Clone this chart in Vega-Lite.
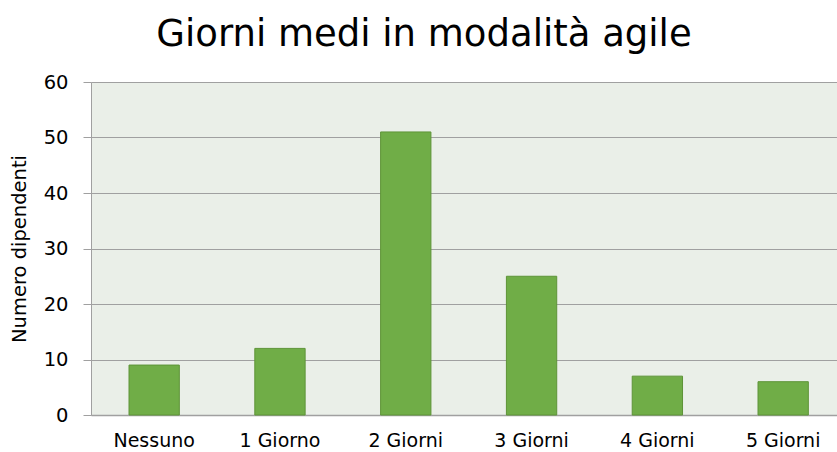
{
  "$schema": "https://vega.github.io/schema/vega-lite/v6.json",
  "width": 746,
  "height": 333,
  "autosize": {"type": "none"},
  "padding": {"left": 91, "top": 82, "right": 0, "bottom": 37},
  "background": "white",
  "title": {
    "text": "Giorni medi in modalità agile",
    "font": "DejaVu Sans",
    "fontSize": 37,
    "fontWeight": "normal",
    "color": "#000000",
    "anchor": "middle",
    "dx": -40,
    "offset": 18
  },
  "data": {
    "values": [
      {"categoria": "Nessuno", "dipendenti": 9},
      {"categoria": "1 Giorno", "dipendenti": 12},
      {"categoria": "2 Giorni", "dipendenti": 51},
      {"categoria": "3 Giorni", "dipendenti": 25},
      {"categoria": "4 Giorni", "dipendenti": 7},
      {"categoria": "5 Giorni", "dipendenti": 6}
    ]
  },
  "config": {
    "view": {"fill": "#EAEFE8", "stroke": null},
    "axis": {"labelFont": "DejaVu Sans", "titleFont": "DejaVu Sans", "labelColor": "#000000", "titleColor": "#000000"}
  },
  "mark": {"type": "bar", "fill": "#70AD47", "stroke": "#5E9438", "strokeWidth": 1},
  "encoding": {
    "x": {
      "field": "categoria",
      "type": "nominal",
      "sort": null,
      "scale": {"paddingInner": 0.6, "paddingOuter": 0.265, "align": 0.57},
      "axis": {
        "title": null,
        "labelAngle": 0,
        "labelFontSize": 19,
        "labelPadding": 16,
        "ticks": false,
        "domainColor": "#A0A0A0",
        "domainWidth": 1.5
      }
    },
    "y": {
      "field": "dipendenti",
      "type": "quantitative",
      "scale": {"domain": [0, 60], "nice": false},
      "axis": {
        "title": "Numero dipendenti",
        "titleFontSize": 19.5,
        "titleFontWeight": "normal",
        "titlePadding": 14,
        "values": [0, 10, 20, 30, 40, 50, 60],
        "labelFontSize": 19.5,
        "labelPadding": 15,
        "tickSize": 8,
        "tickColor": "#A0A0A0",
        "gridColor": "#A0A0A0",
        "gridWidth": 1,
        "domainColor": "#A0A0A0",
        "domainWidth": 1
      }
    }
  }
}
